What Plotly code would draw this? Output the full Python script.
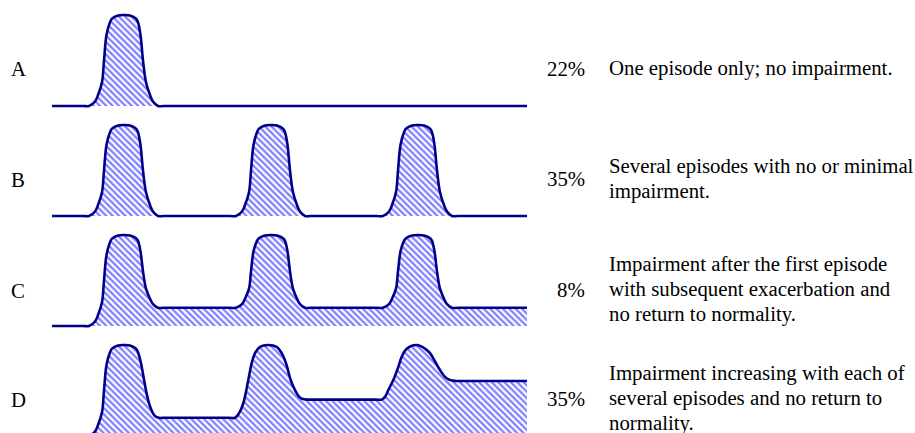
import plotly.graph_objects as go

# ---------------- data ----------------
row_labels = ["A", "B", "C", "D"]
percentages = ["22%", "35%", "8%", "35%"]
descriptions = [
    ["One episode only; no impairment."],
    ["Several episodes with no or minimal", "impairment."],
    ["Impairment after the first episode", "with subsequent exacerbation and", "no return to normality."],
    ["Impairment increasing with each of", "several episodes and no return to", "normality."],
]

# time position (x) and impairment level (y, 1 = episode peak)
A_x = [0, 31,
       37, 43, 46, 50, 52, 54.5, 58, 60, 66, 72, 78, 84, 86, 88.5, 91, 94, 98, 101, 106,
       112, 475]
A_y = [0, 0,
       0, 0.05, 0.12, 0.26, 0.5, 0.78, 0.92, 0.96, 0.995, 1.0, 0.995, 0.96, 0.92, 0.78, 0.5, 0.26, 0.12, 0.05, 0,
       0, 0]

B_x = [0, 31,
       37, 43, 46, 50, 52, 54.5, 58, 60, 66, 72, 78, 84, 86, 88.5, 91, 94, 98, 101, 106,
       112, 178,
       184, 190, 193, 197, 199, 201.5, 205, 207, 213, 219, 225, 231, 233, 235.5, 238, 241, 245, 248, 253,
       259, 325,
       331, 337, 340, 344, 346, 348.5, 352, 354, 360, 366, 372, 378, 380, 382.5, 385, 388, 392, 395, 400,
       406, 475]
B_y = [0, 0,
       0, 0.05, 0.12, 0.26, 0.5, 0.78, 0.92, 0.96, 0.995, 1.0, 0.995, 0.96, 0.92, 0.78, 0.5, 0.26, 0.12, 0.05, 0,
       0, 0,
       0, 0.05, 0.12, 0.26, 0.5, 0.78, 0.92, 0.96, 0.995, 1.0, 0.995, 0.96, 0.92, 0.78, 0.5, 0.26, 0.12, 0.05, 0,
       0, 0,
       0, 0.05, 0.12, 0.26, 0.5, 0.78, 0.92, 0.96, 0.995, 1.0, 0.995, 0.96, 0.92, 0.78, 0.5, 0.26, 0.12, 0.05, 0,
       0, 0]

C_x = [0, 31,
       37, 43, 46, 50, 52, 54.5, 58, 60, 66, 72, 78, 84, 86, 88.5, 91, 94, 98, 101, 106,
       112, 178,
       184, 190, 193, 197, 199, 201.5, 205, 207, 213, 219, 225, 231, 233, 235.5, 238, 241, 245, 248, 253,
       259, 325,
       331, 337, 340, 344, 346, 348.5, 352, 354, 360, 366, 372, 378, 380, 382.5, 385, 388, 392, 395, 400,
       406, 475]
C_y = [0, 0,
       0, 0.05, 0.12, 0.26, 0.5, 0.78, 0.92, 0.96, 0.995, 1.0, 0.995, 0.965, 0.935, 0.82, 0.6, 0.41, 0.3, 0.24, 0.2,
       0.2, 0.2,
       0.2, 0.24, 0.3, 0.41, 0.6, 0.82, 0.935, 0.965, 0.995, 1.0, 0.995, 0.965, 0.935, 0.82, 0.6, 0.41, 0.3, 0.24, 0.2,
       0.2, 0.2,
       0.2, 0.24, 0.3, 0.41, 0.6, 0.82, 0.935, 0.965, 0.995, 1.0, 0.995, 0.965, 0.935, 0.82, 0.6, 0.41, 0.3, 0.24, 0.2,
       0.2, 0.2]

D_x = [0, 31,
       37, 43, 46, 50, 52, 54.5, 58, 60, 66, 72, 78, 84, 86, 89, 92, 94, 97, 100, 103, 107,
       113, 177,
       183, 187.5, 191.3, 196.3, 199.7, 203, 208, 216.3, 224.7, 229.7, 234, 238.7, 243, 247.3, 250, 255,
       261, 324,
       329.7, 333, 336.3, 341.3, 346.3, 349.7, 354.7, 364.7, 373, 378, 383, 388, 393, 398, 404,
       410, 475]
D_y = [0, 0,
       0, 0.05, 0.12, 0.26, 0.5, 0.78, 0.92, 0.96, 0.995, 1.0, 0.995, 0.96, 0.92, 0.8, 0.62, 0.5, 0.36, 0.27, 0.22, 0.2,
       0.2, 0.2,
       0.2, 0.26, 0.36, 0.615, 0.8, 0.91, 0.98, 1.0, 0.98, 0.91, 0.8, 0.615, 0.505, 0.43, 0.41, 0.4,
       0.4, 0.4,
       0.4, 0.43, 0.505, 0.615, 0.76, 0.87, 0.96, 1.0, 0.96, 0.91, 0.82, 0.725, 0.65, 0.615, 0.605,
       0.605, 0.605]

series = [(A_x, A_y), (B_x, B_y), (C_x, C_y), (D_x, D_y)]

# ---------------- layout ----------------
# The page body margin is removed (see post_script below), so the figure
# fills the whole 915x433 window and positions are plain page pixels.
PAGE_W, PAGE_H = 915, 433
W, H = PAGE_W, PAGE_H
PANEL_LEFT = 52                  # px where time 0 sits
ROW_BASE = [106, 216, 326, 436]  # px of level 0 for each row
PEAK_PX = 91                     # px height of level 1
LINE_COLOR = "#00008b"
HATCH_COLOR = "#0000ff"
FONT = "Liberation Serif, Times New Roman, serif"
FS = 20.8


def py(p):
    return 1 - p / H


def px(p):
    return p / W


fig = go.Figure()
layout_axes = {}
for i, (xs, ys) in enumerate(series):
    yname = "y" if i == 0 else f"y{i+1}"
    axname = "yaxis" if i == 0 else f"yaxis{i+1}"
    base = ROW_BASE[i]
    top_px = max(base - 1.1 * PEAK_PX, 0)
    bot_px = min(base + 0.06 * PEAK_PX, PAGE_H)
    lo = (base - bot_px) / PEAK_PX
    hi = (base - top_px) / PEAK_PX
    layout_axes[axname] = dict(domain=[max(py(bot_px), 0), min(py(top_px), 1)], range=[lo, hi],
                               visible=False, fixedrange=True)
    fig.add_trace(go.Scatter(
        x=xs, y=ys, xaxis="x", yaxis=yname, mode="lines",
        line=dict(color=LINE_COLOR, width=2.6, shape="spline", smoothing=1.0),
        fill="tozeroy", fillcolor="rgba(0,0,0,0)",
        fillpattern=dict(shape="\\", fgcolor=HATCH_COLOR, bgcolor="rgba(0,0,0,0)",
                         size=4.5, solidity=0.5),
        hoverinfo="skip", showlegend=False,
    ))

fig.update_layout(
    width=W, height=H, margin=dict(l=0, r=0, t=0, b=0),
    paper_bgcolor="white", plot_bgcolor="white",
    xaxis=dict(range=[-PANEL_LEFT, W - PANEL_LEFT], visible=False, fixedrange=True),
    **layout_axes,
)

# text positions (px)
LABEL_Y = [68, 179, 290, 399]
PCT_Y = [68, 178, 289, 398]
DESC_Y = [[68], [166, 191], [264, 289, 314], [373, 398, 423]]

ann = []
for i in range(4):
    ann.append(dict(x=px(18), y=py(LABEL_Y[i]), xref="paper", yref="paper",
                    text=row_labels[i], showarrow=False, xanchor="center", yanchor="middle",
                    font=dict(family=FONT, size=FS, color="black")))
    ann.append(dict(x=px(587), y=py(PCT_Y[i]), xref="paper", yref="paper",
                    text=percentages[i], showarrow=False, xanchor="right", yanchor="middle",
                    font=dict(family=FONT, size=FS, color="black")))
    for line, yy in zip(descriptions[i], DESC_Y[i]):
        ann.append(dict(x=px(607), y=py(yy), xref="paper", yref="paper",
                        text=line, showarrow=False, xanchor="left", yanchor="middle",
                        font=dict(family=FONT, size=FS, color="black")))
fig.update_layout(annotations=ann)

fig.write_html(
    "out.html",
    config={"displayModeBar": False, "staticPlot": True},
    post_script="document.body.style.margin='0px';document.body.style.overflow='hidden';",
)
